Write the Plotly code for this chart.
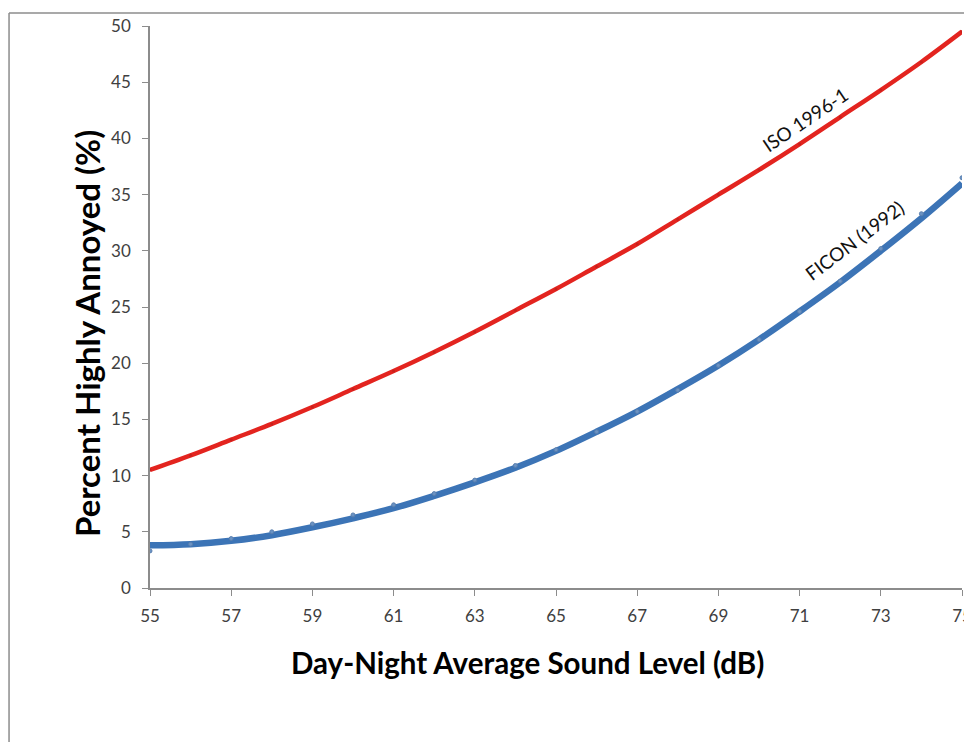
"""Percent highly annoyed vs day-night average sound level."""
import plotly.graph_objects as go

# Day-night average sound level (dB)
dnl = [55, 56, 57, 58, 59, 60, 61, 62, 63, 64, 65,
       66, 67, 68, 69, 70, 71, 72, 73, 74, 75]

# ISO 1996-1 curve (% highly annoyed)
iso_pct = [10.5, 11.8, 13.2, 14.6, 16.1, 17.7, 19.3, 21.0, 22.8, 24.7, 26.6,
           28.6, 30.6, 32.8, 35.0, 37.2, 39.5, 41.9, 44.3, 46.8, 49.5]

# FICON (1992) fitted curve (% highly annoyed)
ficon_fit = [3.8, 3.9, 4.2, 4.7, 5.4, 6.2, 7.1, 8.2, 9.4, 10.7, 12.2,
             13.9, 15.7, 17.7, 19.8, 22.1, 24.6, 27.2, 30.0, 32.9, 36.0]

# FICON (1992) data points
ficon_pts = [3.3, 3.9, 4.4, 5.0, 5.7, 6.5, 7.4, 8.4, 9.6, 10.9, 12.3,
             13.9, 15.7, 17.6, 19.8, 22.1, 24.6, 27.3, 30.2, 33.3, 36.5]

x_ticks = [55, 57, 59, 61, 63, 65, 67, 69, 71, 73, 75]
y_ticks = [0, 5, 10, 15, 20, 25, 30, 35, 40, 45, 50]

RED = "#E3241F"
BLUE = "#3C74B6"
AXIS_GREY = "#8C8C8C"
FONT = "Lato, Open Sans, sans-serif"

fig = go.Figure()

fig.add_trace(go.Scatter(
    x=dnl, y=ficon_fit, mode="lines",
    line={"color": BLUE, "width": 6.5, "shape": "spline"},
    hoverinfo="skip",
))
fig.add_trace(go.Scatter(
    x=dnl, y=ficon_pts, mode="markers",
    marker={"color": "#6B93C4", "size": 4,
            "line": {"color": "#5A7FAE", "width": 1}},
    hoverinfo="skip",
))
fig.add_trace(go.Scatter(
    x=dnl, y=iso_pct, mode="lines+markers",
    line={"color": RED, "width": 4.5, "shape": "spline"},
    marker={"color": "#C8201C", "size": 3},
    hoverinfo="skip",
))

# curve labels
fig.add_annotation(x=71.13, y=41.7, text="ISO 1996-1", showarrow=False,
                   textangle=-34, font={"family": FONT, "size": 19, "color": "#111"})
fig.add_annotation(x=72.34, y=30.9, text="FICON (1992)", showarrow=False,
                   textangle=-37, font={"family": FONT, "size": 19, "color": "#111"})

# axis titles
fig.add_annotation(xref="paper", yref="paper", x=0.4655, y=-0.1317,
                   xanchor="center", yanchor="middle",
                   text="<b>Day-Night Average Sound Level (dB)</b>", showarrow=False,
                   font={"family": FONT, "size": 29.5, "color": "#000"})
fig.add_annotation(xref="paper", yref="paper", x=-0.0776, y=0.4537,
                   xanchor="center", yanchor="middle",
                   text="<b>Percent Highly Annoyed (%)</b>", showarrow=False,
                   textangle=-90, font={"family": FONT, "size": 33, "color": "#000"})

# chart border (cropped at right and bottom)
border = {"color": AXIS_GREY, "width": 1.5}
fig.add_shape(type="line", xref="paper", yref="paper",
              x0=-0.1736, x1=1.05, y0=1.023, y1=1.023, line=border)
fig.add_shape(type="line", xref="paper", yref="paper",
              x0=-0.1736, x1=-0.1736, y0=1.023, y1=-0.3, line=border)

fig.update_layout(
    width=964, height=734,
    margin={"l": 142, "r": 10, "t": 18, "b": 154},
    paper_bgcolor="white", plot_bgcolor="white",
    showlegend=False,
    font={"family": FONT, "size": 17, "color": "#404040"},
)
fig.update_xaxes(
    range=[55, 75], tickvals=x_ticks, showgrid=False, zeroline=False,
    showline=True, linecolor=AXIS_GREY, linewidth=1.5, automargin=False,
    ticks="outside", ticklen=6, tickcolor=AXIS_GREY, ticklabelstandoff=6,
)
fig.update_yaxes(
    range=[0, 50], tickvals=y_ticks, showgrid=False, zeroline=False,
    showline=True, linecolor=AXIS_GREY, linewidth=1.5, automargin=False,
    ticks="outside", ticklen=6, tickcolor=AXIS_GREY, ticklabelstandoff=8,
)

fig.write_html("out.html")
